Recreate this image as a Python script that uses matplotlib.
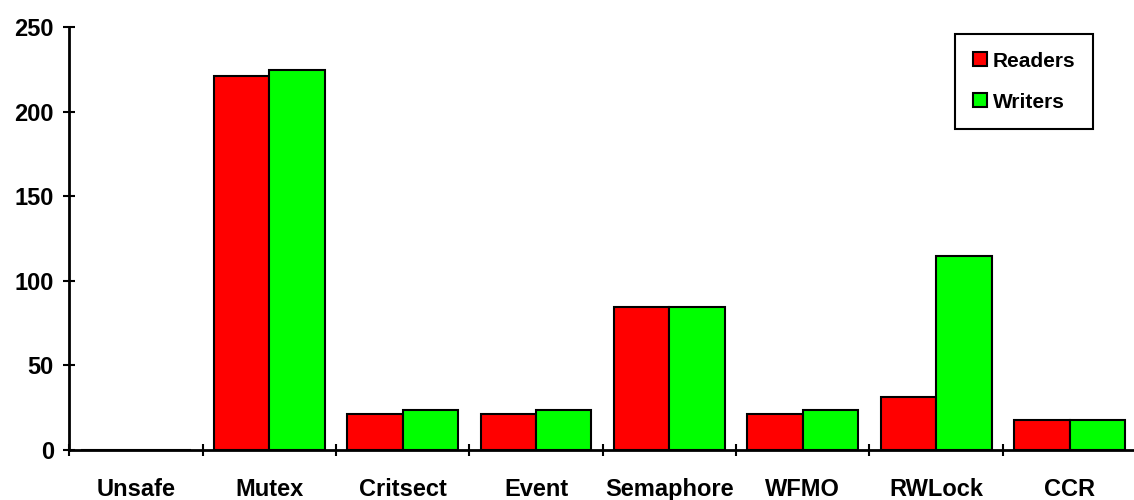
import matplotlib.pyplot as plt
import matplotlib
import numpy as np

matplotlib.rcParams['font.family'] = ['Liberation Sans', 'DejaVu Sans']
matplotlib.rcParams['font.weight'] = 'bold'

labels = ['Unsafe', 'Mutex', 'Critsect', 'Event', 'Semaphore', 'WFMO', 'RWLock', 'CCR']
readers = [0, 221, 21.3, 21.3, 84.3, 21.3, 31.5, 17.5]
writers = [0, 224.6, 23.6, 23.6, 84.3, 23.6, 114.8, 17.5]

x = np.arange(len(labels))
width = 0.415

fig = plt.figure(figsize=(11.34, 5.0), dpi=100)
ax = fig.add_axes([0.061, 0.1, 0.941, 0.846])

ax.bar(x - width / 2, readers, width, color='#ff0000', edgecolor='black', linewidth=1.5, label='Readers')
ax.bar(x + width / 2, writers, width, color='#00ff00', edgecolor='black', linewidth=1.5, label='Writers')

ax.set_xlim(-0.5, len(labels) - 0.5)
ax.set_ylim(0, 250)
ax.set_yticks(np.arange(0, 251, 50))
ax.set_xticks(x)
ax.set_xticklabels(labels, fontsize=17, fontweight='bold')
ax.set_xticks(np.arange(-0.5, len(labels) - 0.5), minor=True)
ax.tick_params(axis='x', which='major', length=0, pad=20)
ax.tick_params(axis='x', which='minor', length=9, width=1.5, direction='inout')
ax.tick_params(axis='y', length=8, width=1.5, direction='inout', labelsize=17, pad=7)
for t in ax.get_yticklabels():
    t.set_fontweight('bold')

for side in ['top', 'right']:
    ax.spines[side].set_visible(False)
for side in ['left', 'bottom']:
    ax.spines[side].set_linewidth(2)

leg = ax.legend(loc='upper right', bbox_to_anchor=(0.964, 0.932), bbox_transform=fig.transFigure,
                fontsize=15, fancybox=False, shadow=False, framealpha=1,
                handlelength=0.65, handleheight=0.65, handletextpad=0.3, labelspacing=1.05,
                borderpad=0.85, borderaxespad=0)
leg.get_frame().set_edgecolor('black')
leg.get_frame().set_linewidth(1.5)

fig.savefig('out.png', dpi=100)
